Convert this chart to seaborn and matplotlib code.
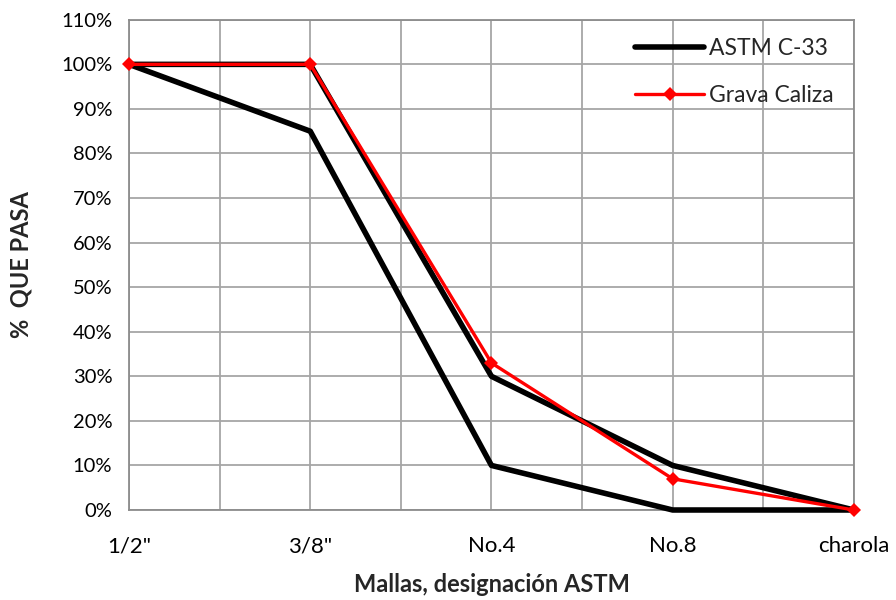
import matplotlib
matplotlib.use("Agg")
import matplotlib.pyplot as plt
import seaborn as sns
import pandas as pd
from matplotlib.ticker import FixedLocator, PercentFormatter

# Granulometric data (% passing per sieve)
mallas = ['1/2"', '3/8"', 'No.4', 'No.8', 'charola']
astm_sup = [100, 100, 30, 10, 0]
astm_inf = [100, 85, 10, 0, 0]
grava_caliza = [100, 100, 33, 7, 0]

sns.set_theme(style="white")
plt.rcParams['font.family'] = ['Lato', 'DejaVu Sans']

pos = list(range(len(mallas)))
df = pd.DataFrame({"pos": pos, "sup": astm_sup, "inf": astm_inf, "grava": grava_caliza})

fig = plt.figure(figsize=(8.96, 6.0), dpi=100)
ax = fig.add_axes([0.144, 0.15, 0.809, 0.817])

grid_color = "#a6a6a6"
sns.lineplot(data=df, x="pos", y="sup", ax=ax, color="black", linewidth=4.0,
             label="ASTM C-33", clip_on=False, zorder=3)
sns.lineplot(data=df, x="pos", y="inf", ax=ax, color="black", linewidth=4.0,
             label="_nolegend_", clip_on=False, zorder=3)
sns.lineplot(data=df, x="pos", y="grava", ax=ax, color="#ff0000", linewidth=2.4,
             marker="D", markersize=7, markeredgewidth=0, label="Grava Caliza",
             clip_on=False, zorder=4)

ax.set_xlim(0, len(mallas) - 1)
ax.set_ylim(0, 110)
ax.set_yticks(range(0, 111, 10))
ax.yaxis.set_major_formatter(PercentFormatter(decimals=0))
ax.set_xticks(pos)
ax.set_xticklabels(mallas)
ax.xaxis.set_minor_locator(FixedLocator([p + 0.5 for p in pos[:-1]]))

ax.grid(True, which="major", color=grid_color, linewidth=1.3)
ax.grid(True, which="minor", axis="x", color=grid_color, linewidth=1.3)
ax.set_axisbelow(True)
for s in ax.spines.values():
    s.set_color("#8c8c8c")
    s.set_linewidth(1.3)

ax.tick_params(axis="both", which="both", direction="out", length=6,
               color="#8c8c8c", width=1.3, colors="black")
ax.tick_params(axis="x", which="major", pad=13, labelsize=16)
ax.tick_params(axis="y", which="major", pad=6, labelsize=14.5)
for t in ax.get_xticklabels() + ax.get_yticklabels():
    t.set_color("black")

ax.set_xlabel("Mallas, designación ASTM", fontsize=17, fontweight="bold")
ax.set_ylabel("%  QUE PASA", fontsize=17, fontweight="bold")
ax.xaxis.set_label_coords(0.5, -0.128)
ax.yaxis.set_label_coords(-0.133, 0.5)

leg = ax.legend(loc="upper right", frameon=False, fontsize=16.5, handlelength=3.0,
                labelspacing=1.15, handletextpad=0.2, bbox_to_anchor=(1.0, 1.005))

fig.savefig("out.png", dpi=100)
